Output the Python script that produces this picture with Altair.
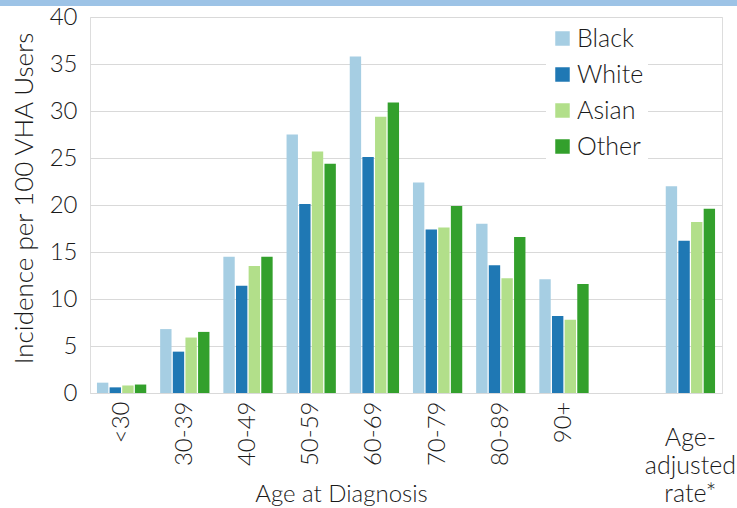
import altair as alt
import pandas as pd

categories = ["<30", "30-39", "40-49", "50-59", "60-69", "70-79", "80-89", "90+", " ", "Age-adjusted rate*"]
series = ["Black", "White", "Asian", "Other"]
black = [1.1, 6.8, 14.5, 27.5, 35.8, 22.4, 18.0, 12.1, None, 22.0]
white = [0.6, 4.4, 11.4, 20.1, 25.1, 17.4, 13.6, 8.2, None, 16.2]
asian = [0.8, 5.9, 13.5, 25.7, 29.4, 17.6, 12.2, 7.8, None, 18.2]
other = [0.9, 6.5, 14.5, 24.4, 30.9, 19.9, 16.6, 11.6, None, 19.6]
colors = ["#a6cee3", "#1f78b4", "#b2df8a", "#33a02c"]

rows = []
for i, c in enumerate(categories):
    for s, vals in zip(series, [black, white, asian, other]):
        if vals[i] is not None:
            rows.append({"age": c, "race": s, "rate": vals[i]})
df = pd.DataFrame(rows)

FONT = "Lato"
FW = 300
TXT = "#1a1a1a"

x_enc = alt.X(
    "age:N",
    sort=categories,
    scale=alt.Scale(domain=categories, paddingInner=0.22, paddingOuter=0.11),
    axis=alt.Axis(
        title="Age at Diagnosis",
        labelAngle=-90,
        labelFont=FONT,
        labelFontSize=24,
        labelFontWeight=FW,
        labelColor=TXT,
        labelPadding=8,
        ticks=False,
        domainColor="#d9d9d9",
        labelExpr="datum.value == 'Age-adjusted rate*' ? '' : datum.value",
        titleFont=FONT,
        titleFontSize=24,
        titleFontWeight=FW,
        titleColor=TXT,
        titleX=251,
        titleY=108,
        titleAlign="center",
        titleBaseline="alphabetic",
    ),
)

bars = alt.Chart(df).mark_bar().encode(
    x=x_enc,
    xOffset=alt.XOffset("race:N", sort=series, scale=alt.Scale(domain=series, paddingInner=0.1)),
    y=alt.Y(
        "rate:Q",
        scale=alt.Scale(domain=[0, 40]),
        axis=alt.Axis(
            title="Incidence per 100 VHA Users",
            values=list(range(0, 45, 5)),
            domain=False,
            ticks=False,
            grid=True,
            gridColor="#d9d9d9",
            labelFont=FONT,
            labelFontSize=24,
            labelFontWeight=FW,
            labelColor=TXT,
            labelPadding=13,
            titleFont=FONT,
            titleFontSize=26,
            titleFontWeight=FW,
            titleColor=TXT,
            titleX=-66,
            titleY=181,
            titleAlign="center",
            titleBaseline="middle",
        ),
    ),
    color=alt.Color(
        "race:N",
        sort=series,
        scale=alt.Scale(domain=series, range=colors),
        legend=alt.Legend(
            title=None,
            orient="none",
            legendX=456,
            legendY=5,
            fillColor="white",
            padding=4,
            symbolType="square",
            symbolSize=210,
            symbolStrokeWidth=0,
            symbolOpacity=1,
            labelFont=FONT,
            labelFontSize=25,
            labelFontWeight=FW,
            labelColor=TXT,
            labelOffset=2,
            rowPadding=10,
        ),
    ),
)

label_df = pd.DataFrame({"age": ["Age-adjusted rate*"], "label": ["Age-\nadjusted\nrate*"]})
adj_label = alt.Chart(label_df).mark_text(
    lineBreak="\n", font=FONT, fontSize=25, fontWeight=FW, align="center", baseline="top",
    lineHeight=28, color=TXT
).encode(
    x=alt.X("age:N", sort=categories),
    y=alt.value(409),
    text="label:N",
)

band_df = pd.DataFrame({"a": [0]})
band = alt.Chart(band_df).mark_rule(color="#9dc3e6", strokeWidth=6).encode(
    x=alt.value(-90), x2=alt.value(647), y=alt.value(-14)
)

chart = alt.layer(bars, adj_label, band).properties(
    width=632,
    height=376,
    autosize=alt.AutoSizeParams(type="none"),
    padding={"left": 90, "top": 17, "right": 15, "bottom": 115},
).configure_view(stroke=None).configure(background="white")

chart.save("out.html", embed_options={"renderer": "svg", "actions": False})
